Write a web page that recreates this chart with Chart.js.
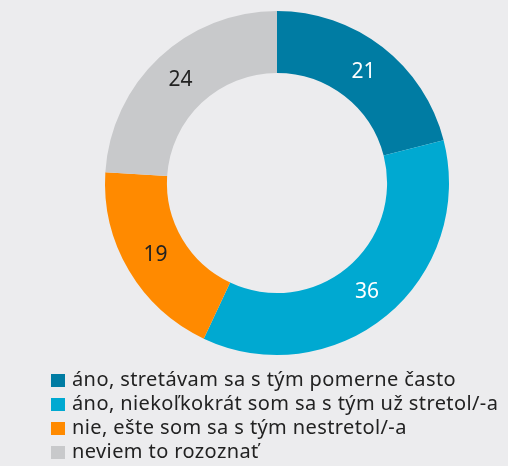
<!DOCTYPE html>
<html>
<head>
<meta charset="utf-8">
<script src="https://cdn.jsdelivr.net/npm/chart.js@4/dist/chart.umd.min.js"></script>
<style>
    body { margin: 0; background: #ececee; }
    #wrap { position: relative; width: 508px; height: 466px; overflow: hidden; }
    #chartBox { position: absolute; left: 0; top: 0; width: 508px; height: 366px; }
    #legend { position: absolute; left: 51px; top: 367px; font-family: "Noto Sans", sans-serif; font-size: 20px; letter-spacing: 0.4px; color: #222; }
    .item { height: 24px; line-height: 24px; white-space: nowrap; }
    .box { display: inline-block; width: 14px; height: 13px; margin-right: 7px; vertical-align: -1px; }
</style>
</head>
<body>
<div id="wrap">
    <div id="chartBox"><canvas id="donut"></canvas></div>
    <div id="legend"></div>
</div>
<script>
const labels = [
    'áno, stretávam sa s tým pomerne často',
    'áno, niekoľkokrát som sa s tým už stretol/-a',
    'nie, ešte som sa s tým nestretol/-a',
    'neviem to rozoznať'
];
const values = [21, 36, 19, 24];
const colors = ['#007ca3', '#00a9d1', '#ff8a00', '#c8c9cb'];
const labelColors = ['#ffffff', '#ffffff', '#222222', '#222222'];

// numbers in the middle of each ring segment
const valueLabels = {
    id: 'valueLabels',
    afterDatasetsDraw(chart) {
        const ctx = chart.ctx;
        const meta = chart.getDatasetMeta(0);
        ctx.save();
        ctx.font = '21px "Noto Sans"';
        ctx.textAlign = 'center';
        ctx.textBaseline = 'middle';
        meta.data.forEach((arc, i) => {
            const p = arc.tooltipPosition();
            ctx.fillStyle = labelColors[i];
            ctx.fillText(values[i], p.x, p.y);
        });
        ctx.restore();
    }
};

new Chart(document.getElementById('donut').getContext('2d'), {
    type: 'doughnut',
    data: {
        labels: labels,
        datasets: [{
            data: values,
            backgroundColor: colors,
            borderWidth: 0
        }]
    },
    options: {
        responsive: true,
        maintainAspectRatio: false,
        animation: false,
        cutout: '64%',
        layout: { padding: { left: 46, top: 11, bottom: 11 } },
        plugins: {
            legend: { display: false },
            tooltip: { enabled: false }
        }
    },
    plugins: [valueLabels]
});

const legend = document.getElementById('legend');
labels.forEach((text, i) => {
    const row = document.createElement('div');
    row.className = 'item';
    const box = document.createElement('span');
    box.className = 'box';
    box.style.background = colors[i];
    row.appendChild(box);
    row.appendChild(document.createTextNode(text));
    legend.appendChild(row);
});
</script>
</body>
</html>
